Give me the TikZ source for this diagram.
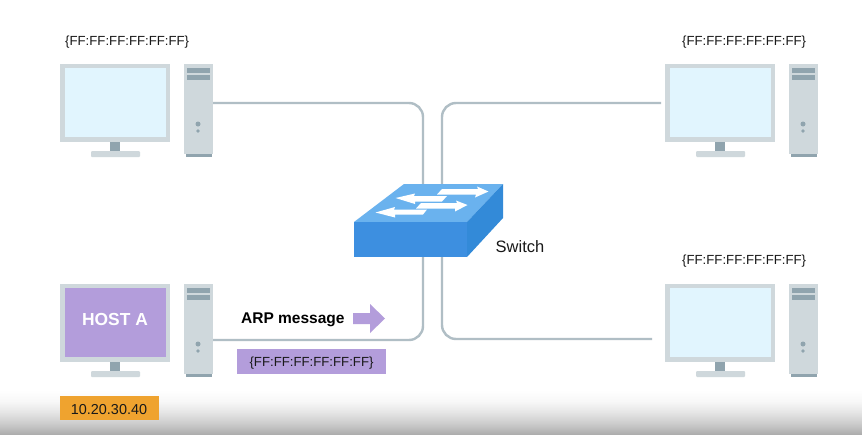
\documentclass[tikz,border=0pt]{standalone}
\usepackage{fontspec}
\setmainfont{Liberation Sans}
\definecolor{framec}{HTML}{CFD8DC}
\definecolor{darkc}{HTML}{90A4AE}
\definecolor{screenc}{HTML}{E1F5FE}
\definecolor{purp}{HTML}{B39DDB}
\definecolor{linec}{HTML}{B0BEC5}
\definecolor{orangec}{HTML}{EFA32F}
\definecolor{swtop}{HTML}{6AB2EE}
\definecolor{swfront}{HTML}{3D8FE0}
\definecolor{swside}{HTML}{338AD8}
\pgfdeclareverticalshading{bottomfade}{100bp}{
  color(0bp)=(black!32); color(25bp)=(black!32); color(37bp)=(black!20); color(50bp)=(black!10); color(62bp)=(black!3); color(75bp)=(white); color(100bp)=(white)}
\tikzset{
  x=1pt,y=-1pt,
  framepart/.style={fill=framec,draw=none},
  darkpart/.style={fill=darkc,draw=none},
  wire/.style={draw=linec,line width=2.4pt,rounded corners=14pt},
  lbl/.style={font=\fontsize{13.2}{15}\selectfont,text=black!90,inner sep=0pt},
  boldlbl/.style={font=\bfseries\fontsize{15.5}{18}\selectfont,text=black,inner sep=0pt},
  swarrow/.style={fill=white,draw=none},
}
% #1 dx, #2 dy, #3 screen colour
\newcommand{\computer}[3]{%
  \begin{scope}[shift={(#1,#2)}]
    \fill[framepart] (60,64) rectangle (170,142);
    \fill[#3] (65,68) rectangle (166,137);
    \fill[darkpart] (110,142) rectangle (120,151);
    \fill[framepart,rounded corners=1pt] (91,151) rectangle (140,157);
    \fill[framepart] (184,64) rectangle (213,154);
    \fill[darkpart] (186,154) rectangle (212,157);
    \fill[darkpart] (187,68) rectangle (210,73);
    \fill[darkpart] (187,75) rectangle (210,80);
    \fill[darkpart] (198,124) circle (2.5);
    \fill[darkpart] (198,131) circle (1.8);
  \end{scope}}
\begin{document}
\begin{tikzpicture}
\useasboundingbox (0,0) rectangle (862,434);
\fill[white] (0,0) rectangle (862,434);
\shade[shading=bottomfade] (0,390) rectangle (862,434);

\computer{0}{0}{screenc}
\computer{605}{0}{screenc}
\computer{605}{220}{screenc}
\computer{0}{220}{purp}

\coordinate (tlport) at (213,103);
\coordinate (trport) at (661,103);
\coordinate (blport) at (213,340);
\coordinate (brport) at (652,339);
\coordinate (swtl) at (423,190);
\coordinate (swtr) at (442,190);
\coordinate (swbl) at (423,250);
\coordinate (swbr) at (442,250);

\draw[wire] (tlport) -| (swtl);
\draw[wire] (trport) -| (swtr);
\draw[wire] (blport) -| (swbl);
\draw[wire] (brport) -| (swbr);

% switch
\fill[swtop] (404,184) -- (503,184) -- (467,222) -- (354,222) -- cycle;
\fill[swfront] (354,222) -- (467,222) -- (467,257) -- (354,257) -- cycle;
\fill[swside] (467,222) -- (503,184) -- (503,218) -- (467,257) -- cycle;
\fill[swarrow] (437,194.5) -- (442,189) -- (478,189) -- (477,186.5) -- (488.5,191.5) -- (475,197.5) -- (476,194.5) -- cycle;
\fill[swarrow] (395.5,198) -- (415,193.5) -- (414,196) -- (447,196) -- (442,201.5) -- (415,201.5) -- (415,204) -- cycle;
\fill[swarrow] (416,208.5) -- (421,203) -- (457,203) -- (456,200.5) -- (467.5,205) -- (455,211.5) -- (455,208.5) -- cycle;
\fill[swarrow] (375.5,212.5) -- (395,207) -- (394,209.5) -- (427,209.5) -- (423,214.5) -- (395,214.5) -- (395,217.5) -- cycle;

\node[lbl,anchor=west] (maca) at (65,42.5) {\{FF:FF:FF:FF:FF:FF\}};
\node[lbl,anchor=west] (macb) at (682,42.5) {\{FF:FF:FF:FF:FF:FF\}};
\node[lbl,anchor=west] (macc) at (682,261.5) {\{FF:FF:FF:FF:FF:FF\}};
\node[inner sep=0pt,font=\fontsize{16.5}{18}\selectfont,text=black!90,anchor=center] (swl) at (520,247) {Switch};
\node[font=\bfseries\fontsize{17.4}{20}\selectfont,inner sep=0pt,anchor=center,text=white] (hosta) at (115,320) {HOST A};
\node[boldlbl,anchor=west] (arp) at (241,319.5) {ARP message};
\fill[purp] (353,313) -- (370,313) -- (370,304) -- (385,318.5) -- (370,333) -- (370,324) -- (353,324) -- cycle;
\node[fill=purp,minimum width=149pt,minimum height=25pt,inner sep=0pt,text height=11pt,text depth=1pt,font=\fontsize{13.2}{15}\selectfont,text=black!90] (macd) at (311.5,361.5) {\{FF:FF:FF:FF:FF:FF\}};
\node[fill=orangec,minimum width=99pt,minimum height=24pt,inner sep=0pt,text height=12pt,text depth=0pt,font=\fontsize{14.4}{16}\selectfont,text=black!90] (ip) at (109,408) {10.20.30.40};
\end{tikzpicture}
\end{document}
